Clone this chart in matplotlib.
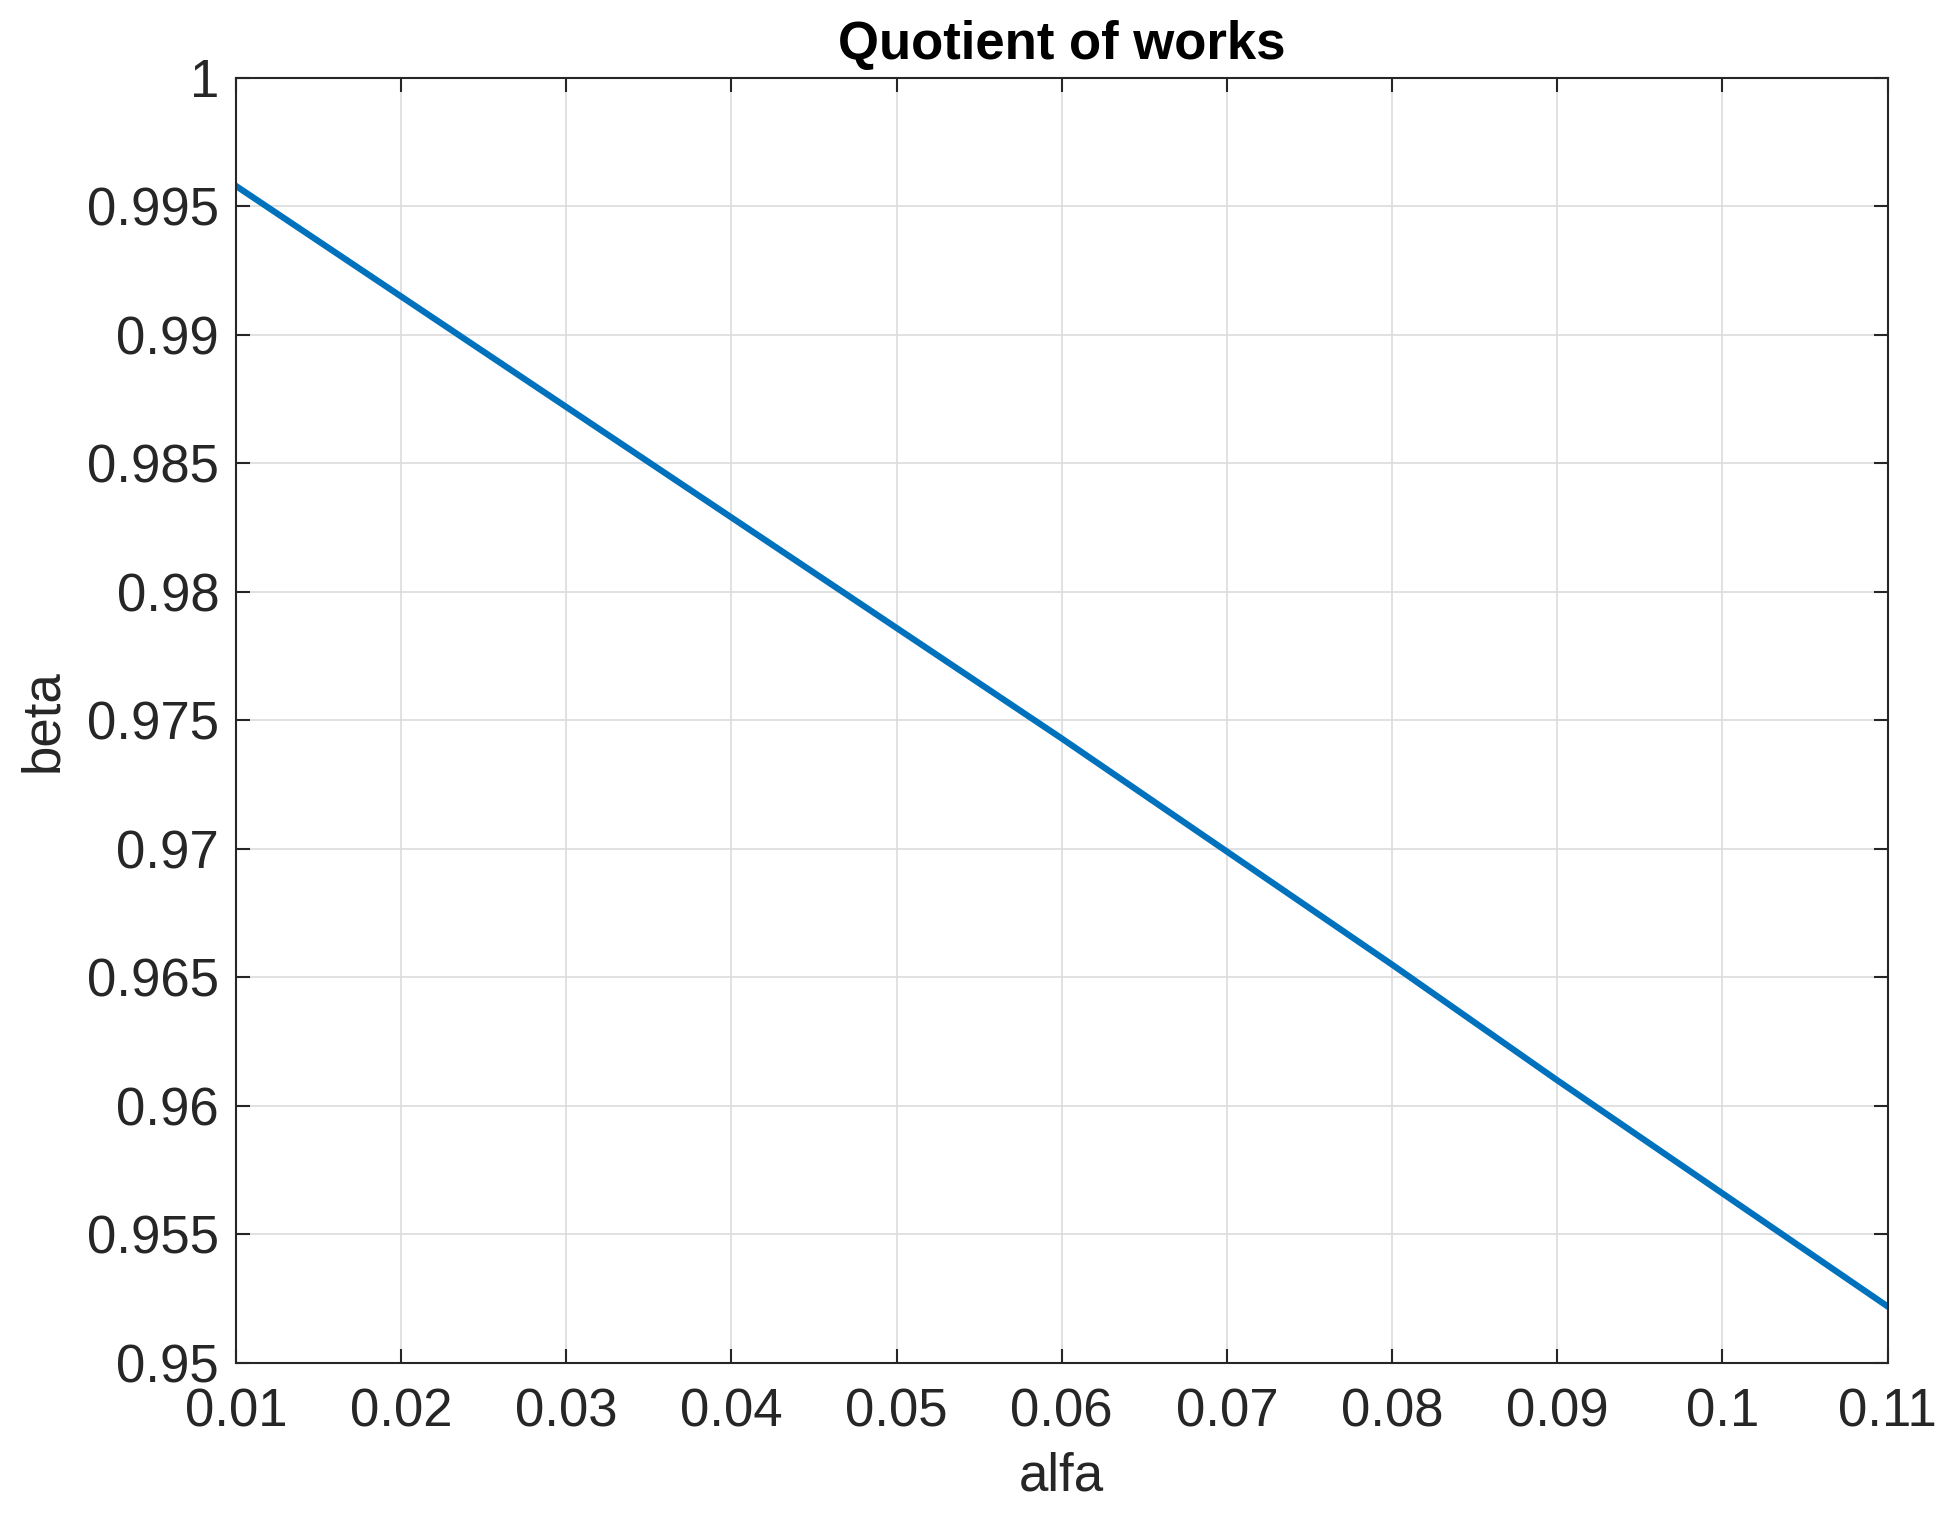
import numpy as np
import matplotlib.pyplot as plt

plt.rcParams['font.family'] = ['Liberation Sans', 'DejaVu Sans']

# values
alfa = [0.01, 0.02, 0.03, 0.04, 0.05, 0.06, 0.07, 0.08, 0.09, 0.10, 0.11]
beta = [0.9958, 0.9915, 0.9872, 0.9829, 0.9786, 0.9743, 0.9699, 0.9655, 0.9610, 0.9566, 0.9522]

xticks = [0.01, 0.02, 0.03, 0.04, 0.05, 0.06, 0.07, 0.08, 0.09, 0.1, 0.11]
xticklabels = ['0.01', '0.02', '0.03', '0.04', '0.05', '0.06', '0.07', '0.08', '0.09', '0.1', '0.11']
yticks = [0.95, 0.955, 0.96, 0.965, 0.97, 0.975, 0.98, 0.985, 0.99, 0.995, 1.0]
yticklabels = ['0.95', '0.955', '0.96', '0.965', '0.97', '0.975', '0.98', '0.985', '0.99', '0.995', '1']

fig = plt.figure(figsize=(19.48, 15.2), dpi=100)
ax = fig.add_axes([0.1211, 0.1033, 0.8479, 0.8454])

ax.plot(alfa, beta, color='#0072BD', linewidth=4.5)

ax.set_xlim(0.01, 0.11)
ax.set_ylim(0.95, 1.0)
ax.set_xticks(xticks)
ax.set_xticklabels(xticklabels)
ax.set_yticks(yticks)
ax.set_yticklabels(yticklabels)

ax.grid(True, color='#dcdcdc', linewidth=1.2)
ax.set_axisbelow(True)
ax.tick_params(direction='in', length=10, width=1.5, top=True, right=True,
               labelsize=38, colors='#262626')
ax.tick_params(axis='x', pad=18)
ax.tick_params(axis='y', pad=12)
for s in ax.spines.values():
    s.set_linewidth(1.5)
    s.set_color('#262626')

ax.set_xlabel('alfa', fontsize=38, color='#262626', labelpad=10)
ax.set_ylabel('beta', fontsize=38, color='#262626', labelpad=14)
ax.set_title('Quotient of works', fontsize=38, fontweight='bold', pad=14)

fig.savefig('out.png', dpi=100)
